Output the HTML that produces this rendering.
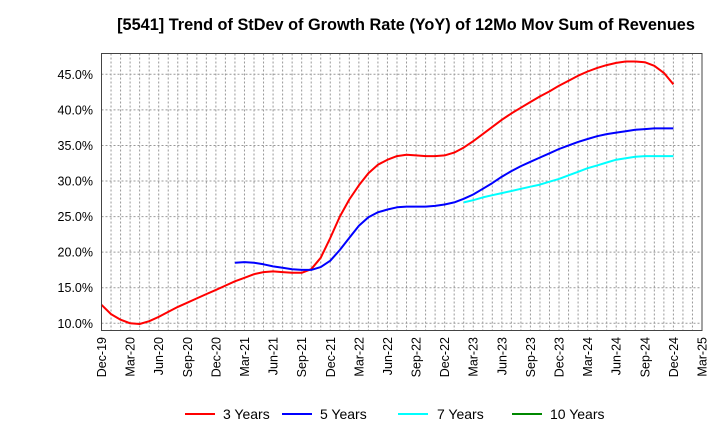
<!DOCTYPE html>
<html><head><meta charset="utf-8"><style>
body{margin:0;background:#fff;font-family:"Liberation Sans",sans-serif}
svg{display:block}
</style></head><body>
<svg id="chart" width="720" height="440" xmlns="http://www.w3.org/2000/svg">
<text x="406" y="30" text-anchor="middle" font-size="16.3" font-weight="bold" fill="#000">[5541]  Trend of StDev of Growth Rate (YoY) of 12Mo Mov Sum of Revenues</text>
<g id="grid"></g>
<g id="yaxis"></g>
<g id="xaxis"></g>
<g id="series"></g>
<rect x="101.5" y="53.5" width="600.5" height="277" fill="none" stroke="#444" stroke-width="1"/>
<g>
<g><line x1="185" y1="414" x2="215" y2="414" stroke="#f00" stroke-width="2"/><text x="223" y="419" font-size="14">3 Years</text></g>
<g><line x1="282" y1="414" x2="312" y2="414" stroke="#00f" stroke-width="2"/><text x="320" y="419" font-size="14">5 Years</text></g>
<g><line x1="398" y1="414" x2="428" y2="414" stroke="#0ff" stroke-width="2"/><text x="437" y="419" font-size="14">7 Years</text></g>
<g><line x1="512" y1="414" x2="542" y2="414" stroke="#080" stroke-width="2"/><text x="550" y="419" font-size="14">10 Years</text></g>
</g>
</svg>
<script>
const yTicks=[10,15,20,25,30,35,40,45];
const xLabels=["Dec-19","Mar-20","Jun-20","Sep-20","Dec-20","Mar-21","Jun-21","Sep-21","Dec-21","Mar-22","Jun-22","Sep-22","Dec-22","Mar-23","Jun-23","Sep-23","Dec-23","Mar-24","Jun-24","Sep-24","Dec-24","Mar-25"];
const s3=[12.6,11.3,10.5,10.0,9.9,10.3,10.9,11.6,12.3,12.9,13.5,14.1,14.7,15.3,15.9,16.4,16.9,17.2,17.3,17.2,17.1,17.1,17.6,19.2,22.0,25.0,27.4,29.4,31.1,32.3,33.0,33.5,33.7,33.6,33.5,33.5,33.6,34.0,34.7,35.6,36.6,37.6,38.6,39.5,40.3,41.1,41.9,42.6,43.4,44.1,44.8,45.4,45.9,46.3,46.6,46.8,46.8,46.7,46.2,45.2,43.6];
const s5=[null,null,null,null,null,null,null,null,null,null,null,null,null,null,18.5,18.6,18.5,18.3,18.0,17.8,17.6,17.5,17.5,17.9,18.8,20.3,22.0,23.7,24.9,25.6,26.0,26.3,26.4,26.4,26.4,26.5,26.7,27.0,27.5,28.1,28.9,29.7,30.6,31.4,32.1,32.7,33.3,33.9,34.5,35.0,35.5,35.9,36.3,36.6,36.8,37.0,37.2,37.3,37.4,37.4,37.4];
const s7=[null,null,null,null,null,null,null,null,null,null,null,null,null,null,null,null,null,null,null,null,null,null,null,null,null,null,null,null,null,null,null,null,null,null,null,null,null,null,27.0,27.3,27.7,28.0,28.3,28.6,28.9,29.2,29.5,29.9,30.3,30.8,31.3,31.8,32.2,32.6,33.0,33.2,33.4,33.5,33.5,33.5,33.5];
const NS="http://www.w3.org/2000/svg";
const X0=101.5,X1=702,Y45=74.3,Y10=323.3,NM=63;
const xs=i=>X0+i*(X1-X0)/NM;
const ys=v=>Y10-(v-10)*(Y10-Y45)/35;
function mk(tag,attrs,parent){const e=document.createElementNS(NS,tag);for(const k in attrs)e.setAttribute(k,attrs[k]);parent.appendChild(e);return e;}
const grid=document.getElementById('grid'),ya=document.getElementById('yaxis'),xa=document.getElementById('xaxis'),ser=document.getElementById('series');
for(let i=1;i<NM;i++){const l=mk('line',{x1:xs(i),x2:xs(i),y1:53.5,y2:330.5,stroke:'#999','stroke-dasharray':'2,2','stroke-width':1},grid);

}
yTicks.forEach(v=>{const l=mk('line',{x1:X0,x2:X1,y1:ys(v),y2:ys(v),stroke:'#999','stroke-dasharray':'2,2','stroke-width':1},grid);


const t=mk('text',{x:93,y:ys(v)+4.5,'text-anchor':'end','font-size':12.5,fill:'#000'},ya);t.textContent=v.toFixed(1)+'%';

});
xLabels.forEach((lab,k)=>{const x=xs(k*3);const t=mk('text',{x:0,y:0,'text-anchor':'end','font-size':12.5,fill:'#000',transform:`translate(${x+4.5},337) rotate(-90)`},xa);t.textContent=lab;

});
function draw(arr,color,name){let d='';let started=false;arr.forEach((v,i)=>{if(v==null)return;d+=(started?'L':'M')+xs(i).toFixed(1)+','+ys(v).toFixed(1);started=true;});
const p=mk('path',{d:d,fill:'none',stroke:color,'stroke-width':2,'stroke-linejoin':'round'},ser);

}
draw(s3,'#f00','line-3-years');draw(s5,'#00f','line-5-years');draw(s7,'#0ff','line-7-years');
</script>
</body></html>
